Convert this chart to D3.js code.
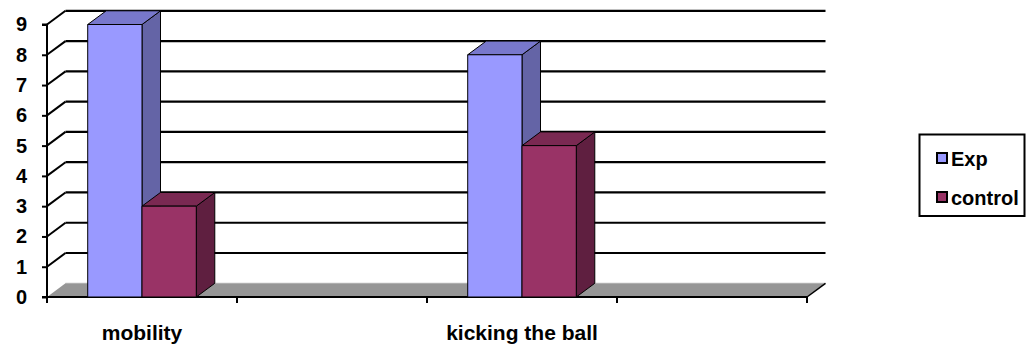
<!DOCTYPE html>
<html>
<head>
<meta charset="utf-8">
<script src="https://cdn.jsdelivr.net/npm/d3@7"></script>
<style>
  body { margin: 0; background: #fff; }
  svg { display: block; font-family: "Liberation Sans", Arial, sans-serif; font-weight: bold; }
</style>
</head>
<body>
<svg id="chart" width="1027" height="347"></svg>
<script>
// data
const categories = ["mobility", "", "kicking the ball", ""];
const seriesNames = ["Exp", "control"];
const expValues = [9, null, 8, null];
const controlValues = [3, null, 5, null];
const yTicks = [0, 1, 2, 3, 4, 5, 6, 7, 8, 9];

const colors = {
    Exp: { front: "#9999ff", top: "#7878cc", side: "#6464a6" },
    control: { front: "#993366", top: "#7a2952", side: "#5f1f40" }
};

const svg = d3.select("#chart");
const plotL = 47, plotR = 807, baseY = 297, topY = 24.5;
const dx = 18.5, dy = -13.7;   // depth offset of the 3d walls

const x = d3.scaleBand().domain(d3.range(categories.length)).range([plotL, plotR]);
const gap = 1.5;                   // excel gap width 150%
const barW = x.bandwidth() / (seriesNames.length + gap);
const xs = d3.scaleBand().domain(seriesNames)
    .range([barW * gap / 2, barW * gap / 2 + barW * seriesNames.length]);
const y = d3.scaleLinear().domain([0, 9]).range([baseY, topY]);

// floor
svg.append("polygon")
    .attr("points", [[plotL, baseY], [plotR, baseY], [plotR + dx, baseY + dy], [plotL + dx, baseY + dy]].join(" "))
    .attr("fill", "#969696");
svg.append("line")
    .attr("x1", plotL + dx).attr("x2", plotR + dx)
    .attr("y1", baseY + dy).attr("y2", baseY + dy)
    .attr("stroke", "#b0b0b0").attr("stroke-width", 1);
svg.append("line")
    .attr("x1", plotR).attr("y1", baseY)
    .attr("x2", plotR + dx).attr("y2", baseY + dy)
    .attr("stroke", "#000").attr("stroke-width", 1.5);

// gridlines: back wall + left side wall
const grid = svg.append("g");
yTicks.filter(v => v > 0).forEach(v => {
    const yy = y(v);
    grid.append("line")
        .attr("x1", plotL + dx).attr("x2", plotR + dx)
        .attr("y1", yy + dy).attr("y2", yy + dy)
        .attr("stroke", "#000").attr("stroke-width", 2.2);
    grid.append("line")
        .attr("x1", plotL).attr("y1", yy)
        .attr("x2", plotL + dx).attr("y2", yy + dy)
        .attr("stroke", "#000").attr("stroke-width", 2);
});

// y axis
const yAxis = svg.append("g")
    .attr("transform", `translate(${plotL},0)`)
    .call(d3.axisLeft(y).tickValues(yTicks).tickFormat(d3.format("d")).tickSize(5).tickPadding(15));
yAxis.select(".domain").attr("stroke-width", 2).attr("d", `M-5,${topY}H0V${baseY}H-5`);
yAxis.selectAll(".tick line").attr("stroke-width", 2);
yAxis.selectAll("text").attr("font-size", 20).attr("font-weight", "bold").attr("fill", "#000")
    .attr("font-family", "Liberation Sans, Arial, sans-serif");

// x axis line and ticks at slot boundaries
svg.append("line")
    .attr("x1", plotL).attr("x2", plotR)
    .attr("y1", baseY).attr("y2", baseY)
    .attr("stroke", "#000").attr("stroke-width", 2);
const bounds = d3.range(categories.length).map(i => x(i)).concat([x(categories.length - 1) + x.bandwidth()]);
svg.append("g").selectAll("line").data(bounds).join("line")
    .attr("x1", d => d).attr("x2", d => d)
    .attr("y1", baseY).attr("y2", baseY + 6)
    .attr("stroke", "#000").attr("stroke-width", 2);

svg.append("g").selectAll("text").data(categories).join("text")
    .attr("x", (d, i) => x(i) + x.bandwidth() / 2)
    .attr("y", 339.5)
    .attr("text-anchor", "middle")
    .attr("font-size", 21)
    .text(d => d);

// bars
const bars = [];
categories.forEach((c, i) => {
    [["Exp", expValues[i]], ["control", controlValues[i]]].forEach(([s, v]) => {
        if (v != null) bars.push({ i, s, v });
    });
});
const barG = svg.append("g").attr("stroke", "#000").attr("stroke-width", 1).attr("stroke-linejoin", "round");
bars.forEach(b => {
    const x0 = x(b.i) + xs(b.s), x1 = x0 + barW;
    const y0 = y(b.v), y1 = y(0);
    const col = colors[b.s];
    barG.append("polygon")
        .attr("points", [[x1, y1], [x1 + dx, y1 + dy], [x1 + dx, y0 + dy], [x1, y0]].join(" "))
        .attr("fill", col.side);
    barG.append("polygon")
        .attr("points", [[x0, y0], [x1, y0], [x1 + dx, y0 + dy], [x0 + dx, y0 + dy]].join(" "))
        .attr("fill", col.top);
    barG.append("rect")
        .attr("x", x0).attr("y", y0)
        .attr("width", barW).attr("height", y1 - y0)
        .attr("fill", col.front);
});

// legend
const legend = svg.append("g");
legend.append("rect")
    .attr("x", 919.5).attr("y", 134.5).attr("width", 105).attr("height", 81.5)
    .attr("fill", "#fff").attr("stroke", "#000").attr("stroke-width", 2);
seriesNames.forEach((s, k) => {
    const ly = 153 + k * 39;
    legend.append("rect")
        .attr("x", 937).attr("y", ly).attr("width", 10).attr("height", 10)
        .attr("fill", colors[s].front).attr("stroke", "#000").attr("stroke-width", 2);
    legend.append("text")
        .attr("x", 951).attr("y", ly + 12.5)
        .attr("font-size", 20)
        .text(s);
});
</script>
</body>
</html>
